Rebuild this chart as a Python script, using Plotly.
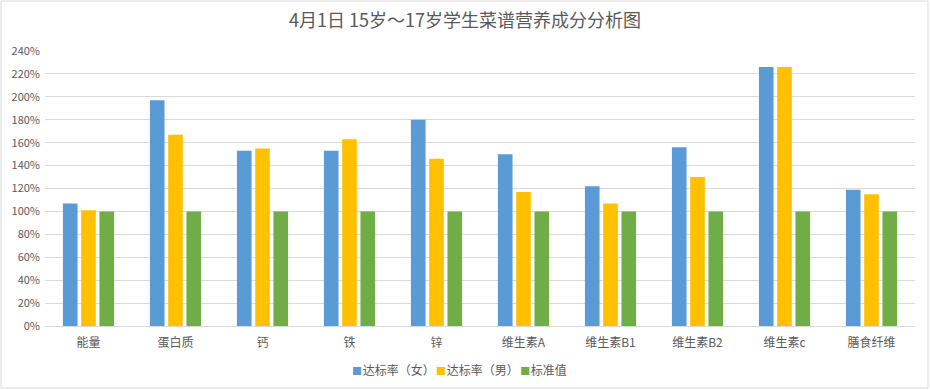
import plotly.graph_objects as go

categories = ["能量", "蛋白质", "钙", "铁", "锌", "维生素A", "维生素B1", "维生素B2", "维生素c", "膳食纤维"]
female = [1.07, 1.97, 1.53, 1.53, 1.80, 1.50, 1.22, 1.56, 2.26, 1.19]
male = [1.01, 1.67, 1.55, 1.63, 1.46, 1.17, 1.07, 1.30, 2.26, 1.15]
standard = [1.00, 1.00, 1.00, 1.00, 1.00, 1.00, 1.00, 1.00, 1.00, 1.00]
series_names = ["达标率（女）", "达标率（男）", "标准值"]
colors = ["#5B9BD5", "#FFC000", "#70AD47"]
title_text = "4月1日 15岁～17岁学生菜谱营养成分分析图"

font_family = "Noto Sans CJK SC, Microsoft YaHei, sans-serif"

fig = go.Figure()
for name, vals, col in zip(series_names, [female, male, standard], colors):
    fig.add_trace(go.Bar(x=categories, y=vals, name=name, showlegend=False,
                         marker=dict(color=col, line=dict(width=0))))

# compact legend drawn as a text annotation (Excel-style small square swatches)
legend_html = '<span style="font-size:6px">&nbsp;</span>'.join(
    f'<span style="color:{c};font-size:10px">■</span><span style="font-size:3px">&nbsp;</span>{n}'
    for n, c in zip(series_names, colors)
)

fig.update_layout(
    width=930, height=390,
    barmode="group",
    bargap=0.37,
    bargroupgap=0.2,
    paper_bgcolor="white",
    plot_bgcolor="white",
    showlegend=False,
    margin=dict(l=45, r=15, t=51, b=64, autoexpand=False),
    title=dict(text=title_text, x=0.5, xanchor="center", y=0.948, yanchor="middle",
               font=dict(family=font_family, size=18, color="#595959")),
    font=dict(family=font_family, color="#595959", size=12),
    yaxis=dict(range=[0, 2.4], dtick=0.2, tickformat=".0%", showgrid=True,
               gridcolor="#D9D9D9", gridwidth=1, zeroline=False, showline=False,
               ticks="", ticklen=0, ticklabelstandoff=4,
               tickfont=dict(size=11, color="#595959"), fixedrange=True,
               automargin=False),
    xaxis=dict(showline=True, linecolor="#D9D9D9", linewidth=1, ticks="",
               ticklabelstandoff=6,
               tickfont=dict(size=12, color="#595959"), fixedrange=True, automargin=False),
    annotations=[dict(text=legend_html, xref="paper", yref="paper", x=(459.5 - 45) / 870,
                      y=-43 / 275, xanchor="center", yanchor="middle", showarrow=False,
                      font=dict(family=font_family, size=12, color="#595959"))],
    shapes=[dict(type="rect", xref="paper", yref="paper", x0=-44/870, x1=1+13/870,
                 y0=-62/275, y1=1+50/275, line=dict(color="#D9D9D9", width=1))],
)

fig.write_html("out.html", post_script="document.body.style.margin='0';",
               config={"displayModeBar": False})
